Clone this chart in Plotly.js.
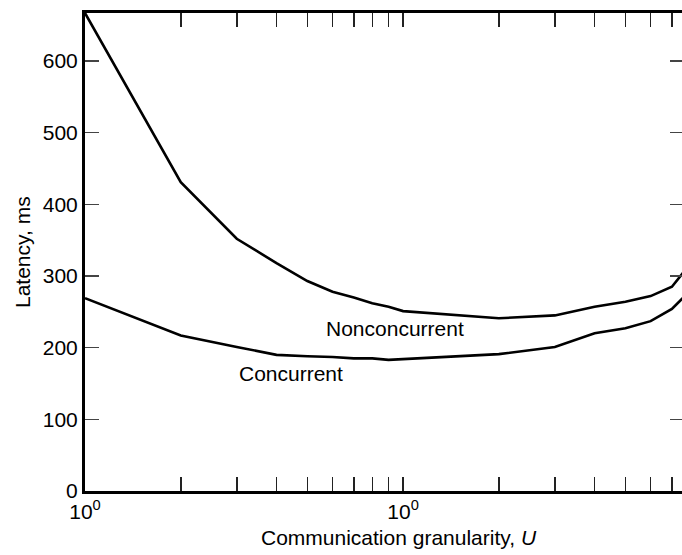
<!DOCTYPE html>
<html>
<head>
<meta charset="utf-8">
<script src="https://cdn.plot.ly/plotly-3.0.1.min.js"></script>
<style>
html, body { margin: 0; padding: 0; overflow: hidden; background: #fff; }
#chart { width: 686px; height: 555px; }
</style>
</head>
<body>
<div id="chart"></div>
<script>
// Communication granularity U (log scale)
const granularity = [1, 2, 3, 4, 5, 6, 7, 8, 9, 10, 20, 30, 40, 50, 60, 70, 76.4];
// Latency, ms
const nonconcurrent = [667, 431, 352, 318, 293, 278, 270, 262, 257, 251, 241, 245, 257, 264, 272, 285, 306];
const concurrent = [269, 217, 201, 190, 188, 187, 185, 185, 183, 184, 191, 201, 220, 227, 237, 254, 271];

const xTickVals = [1, 2, 3, 4, 5, 6, 7, 8, 9, 10, 20, 30, 40, 50, 60, 70];
const xTickText = ['10<sup>0</sup>', '', '', '', '', '', '', '', '', '10<sup>0</sup>', '', '', '', '', '', ''];
const yTickVals = [0, 100, 200, 300, 400, 500, 600];

const seriesLabels = ['Nonconcurrent', 'Concurrent'];
const labelPos = [[9.4, 227], [4.45, 164]];

const font = 'Liberation Sans, Arial, Helvetica, sans-serif';
const fs = 21;

const traces = [
  { x: granularity, y: nonconcurrent, mode: 'lines', line: { color: '#000', width: 2.6 }, name: seriesLabels[0], hoverinfo: 'none' },
  { x: granularity, y: concurrent, mode: 'lines', line: { color: '#000', width: 2.6 }, name: seriesLabels[1], hoverinfo: 'none' }
];

const layout = {
  width: 686, height: 555,
  margin: { l: 85, r: 2, t: 13, b: 64 },
  paper_bgcolor: '#fff', plot_bgcolor: '#fff',
  showlegend: false,
  font: { family: font, size: fs, color: '#000' },
  xaxis: {
    type: 'log', range: [0, Math.log10(76.4)],
    tickmode: 'array', tickvals: xTickVals, ticktext: xTickText,
    ticks: 'inside', ticklen: 14, tickwidth: 1.5, tickcolor: '#222',
    showline: true, linewidth: 3, linecolor: '#000', mirror: 'ticks',
    showgrid: false, zeroline: false,
    tickfont: { size: fs, family: font }
  },
  yaxis: {
    range: [0, 667],
    tickmode: 'array', tickvals: yTickVals,
    ticks: 'inside', ticklen: 14, tickwidth: 1.5, tickcolor: '#444',
    showline: true, linewidth: 3, linecolor: '#000', mirror: 'ticks',
    showgrid: false, zeroline: false,
    tickfont: { size: fs, family: font }
  },
  annotations: [
    { text: seriesLabels[0], x: Math.log10(labelPos[0][0]), y: labelPos[0][1], xref: 'x', yref: 'y', showarrow: false, font: { size: fs, family: font } },
    { text: seriesLabels[1], x: Math.log10(labelPos[1][0]), y: labelPos[1][1], xref: 'x', yref: 'y', showarrow: false, font: { size: fs, family: font } },
    { text: 'Communication granularity, <i>U</i>', x: Math.log10(9.7), y: 0, xref: 'x', yref: 'paper', xanchor: 'center', yanchor: 'middle', yshift: -46, showarrow: false, font: { size: fs, family: font } },
    { text: 'Latency, ms', x: 0, y: 0.5, xref: 'paper', yref: 'paper', xanchor: 'center', yanchor: 'middle', xshift: -63, textangle: -90, showarrow: false, font: { size: fs, family: font } }
  ]
};

Plotly.newPlot('chart', traces, layout, { displayModeBar: false, staticPlot: true });
</script>
</body>
</html>
